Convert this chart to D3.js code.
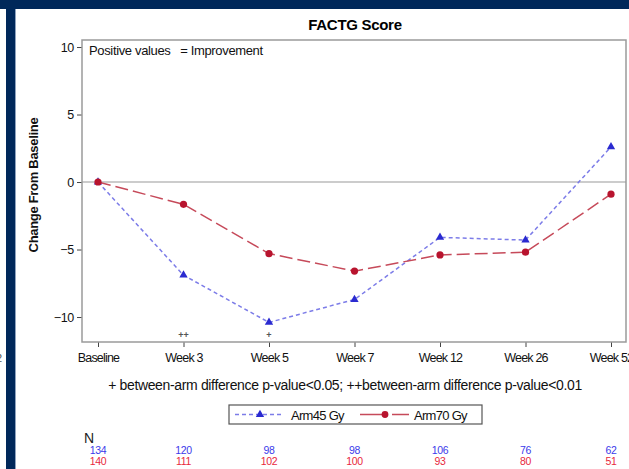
<!DOCTYPE html>
<html>
<head>
<meta charset="utf-8">
<script src="https://cdn.jsdelivr.net/npm/d3@7"></script>
<style>
  html, body { margin: 0; padding: 0; background: #fff; overflow: hidden; }
  svg { display: block; font-family: "Liberation Sans", Arial, sans-serif; }
</style>
</head>
<body>
<svg id="chart" width="629" height="469"></svg>
<script>
// Visits on the x axis
const visits = ["Baseline", "Week 3", "Week 5", "Week 7", "Week 12", "Week 26", "Week 52"];
// Mean change from baseline in FACT-G score, per arm
const arm45 = [0, -6.9, -10.4, -8.7, -4.1, -4.3, 2.6];
const arm70 = [0, -1.65, -5.3, -6.6, -5.4, -5.2, -0.9];
// Patients contributing at each visit
const n45 = [134, 120, 98, 98, 106, 76, 62];
const n70 = [140, 111, 102, 100, 93, 80, 51];
// Significance flags shown under each visit
const sigMarks = ["", "++", "+", "", "", "", ""];
const yTicks = [-10, -5, 0, 5, 10];
const seriesNames = ["Arm45 Gy", "Arm70 Gy"];

const svg = d3.select("#chart");
const navy = "#00285a";

// page frame
svg.append("rect").attr("x", 0).attr("y", 0).attr("width", 629).attr("height", 9).attr("fill", navy);
svg.append("rect").attr("x", 6).attr("y", 0).attr("width", 9).attr("height", 469).attr("fill", navy);
svg.append("rect").attr("x", 15).attr("y", 9).attr("width", 1).attr("height", 460).attr("fill", "#8fa3bf");
svg.append("text").attr("x", -4).attr("y", 362).attr("font-size", 11).attr("fill", "#555").text("2");

const plot = { left: 82, right: 626, top: 40, bottom: 342 };

const x = d3.scalePoint().domain(visits).range([plot.left + 16, plot.right - 15]);
const y = d3.scaleLinear().domain([-11.85, 10.52]).range([plot.bottom, plot.top]);

// title
svg.append("text").attr("x", 355).attr("y", 30).attr("text-anchor", "middle")
  .attr("font-size", 15).attr("font-weight", "bold").attr("letter-spacing", -0.3)
  .text("FACTG Score");

// zero reference line
svg.append("line").attr("x1", plot.left).attr("x2", plot.right)
  .attr("y1", y(0)).attr("y2", y(0)).attr("stroke", "#9a9a9a").attr("stroke-width", 1.2);

// axes
const yAxis = d3.axisLeft(y).tickValues(yTicks).tickSize(5).tickPadding(3);
const gy = svg.append("g").attr("transform", `translate(${plot.left},0)`).call(yAxis);
gy.select(".domain").remove();
gy.selectAll(".tick line").attr("stroke", "#444");
gy.selectAll(".tick text").attr("font-size", 12.5).attr("fill", "#111").attr("letter-spacing", -0.3)
  .attr("font-family", "Liberation Sans, Arial, sans-serif");

const xAxis = d3.axisBottom(x).tickSize(5).tickPadding(6);
const gx = svg.append("g").attr("transform", `translate(0,${plot.bottom})`).call(xAxis);
gx.select(".domain").remove();
gx.selectAll(".tick line").attr("stroke", "#444");
gx.selectAll(".tick text").attr("font-size", 12.5).attr("fill", "#111").attr("letter-spacing", -0.8)
  .attr("font-family", "Liberation Sans, Arial, sans-serif");

// plot border
svg.append("rect").attr("x", plot.left).attr("y", plot.top)
  .attr("width", plot.right - plot.left).attr("height", plot.bottom - plot.top)
  .attr("fill", "none").attr("stroke", "#9a9a9a").attr("stroke-width", 1.5);

// inset note
svg.append("text").attr("x", 89).attr("y", 55).attr("font-size", 13).attr("letter-spacing", -0.35)
  .attr("fill", "#111").attr("xml:space", "preserve").text("Positive values   = Improvement");

// y-axis title
svg.append("text").attr("transform", `translate(38,${(y(10) + y(-10)) / 2 + 3}) rotate(-90)`)
  .attr("text-anchor", "middle").attr("font-size", 13).attr("font-weight", "bold")
  .attr("letter-spacing", -0.3).attr("fill", "#111").text("Change From Baseline");

// significance flags
svg.append("g").selectAll("text").data(visits).join("text")
  .attr("x", d => x(d)).attr("y", 338).attr("text-anchor", "middle")
  .attr("font-size", 9).attr("font-weight", "bold").attr("fill", "#555")
  .text((d, i) => sigMarks[i]);

const line = d3.line().x((d, i) => x(visits[i])).y(d => y(d));

const blue = { line: "#7c7ce8", mark: "#2a2ad0", dash: "4,3" };
const red = { line: "#c64a5a", mark: "#b8142e", dash: "13,5" };

// Arm 45 Gy
svg.append("path").datum(arm45).attr("d", line).attr("fill", "none")
  .attr("stroke", blue.line).attr("stroke-width", 1.5).attr("stroke-dasharray", blue.dash);
const tri = d3.symbol().type(d3.symbolTriangle).size(30);
svg.append("g").selectAll("path").data(arm45).join("path")
  .attr("transform", (d, i) => `translate(${x(visits[i])},${y(d)})`)
  .attr("d", tri).attr("fill", blue.mark);

// Arm 70 Gy
svg.append("path").datum(arm70).attr("d", line).attr("fill", "none")
  .attr("stroke", red.line).attr("stroke-width", 1.5).attr("stroke-dasharray", red.dash);
svg.append("g").selectAll("circle").data(arm70).join("circle")
  .attr("cx", (d, i) => x(visits[i])).attr("cy", d => y(d)).attr("r", 3.6)
  .attr("fill", red.mark);

// footnote
svg.append("text").attr("x", 345).attr("y", 390).attr("text-anchor", "middle")
  .attr("font-size", 14).attr("letter-spacing", -0.35).attr("fill", "#111")
  .text("+ between-arm difference p-value<0.05; ++between-arm difference p-value<0.01");

// legend
const lg = svg.append("g");
lg.append("rect").attr("x", 229).attr("y", 405).attr("width", 253).attr("height", 19)
  .attr("fill", "#fff").attr("stroke", "#555").attr("stroke-width", 1.2);
lg.append("line").attr("x1", 235).attr("x2", 283).attr("y1", 414.5).attr("y2", 414.5)
  .attr("stroke", blue.line).attr("stroke-width", 1.5).attr("stroke-dasharray", blue.dash);
lg.append("path").attr("transform", "translate(260,414.5)").attr("d", tri).attr("fill", blue.mark);
lg.append("text").attr("x", 291).attr("y", 419.5).attr("font-size", 13).attr("letter-spacing", -0.7)
  .attr("fill", "#111").text(seriesNames[0]);
lg.append("line").attr("x1", 360).attr("x2", 409).attr("y1", 414.5).attr("y2", 414.5)
  .attr("stroke", red.line).attr("stroke-width", 1.5).attr("stroke-dasharray", "27,5");
lg.append("circle").attr("cx", 385).attr("cy", 414.5).attr("r", 3.4).attr("fill", red.mark);
lg.append("text").attr("x", 414).attr("y", 419.5).attr("font-size", 13).attr("letter-spacing", -0.7)
  .attr("fill", "#111").text(seriesNames[1]);

// N at risk table
svg.append("text").attr("x", 84).attr("y", 443).attr("font-size", 14).attr("fill", "#222").text("N");
svg.append("g").selectAll("text").data(n45).join("text")
  .attr("x", (d, i) => x(visits[i])).attr("y", 454).attr("text-anchor", "middle")
  .attr("font-size", 10.5).attr("letter-spacing", -0.4).attr("fill", "#3b3bea").text(d => d);
svg.append("g").selectAll("text").data(n70).join("text")
  .attr("x", (d, i) => x(visits[i])).attr("y", 465).attr("text-anchor", "middle")
  .attr("font-size", 10.5).attr("letter-spacing", -0.4).attr("fill", "#e8283c").text(d => d);
</script>
</body>
</html>
